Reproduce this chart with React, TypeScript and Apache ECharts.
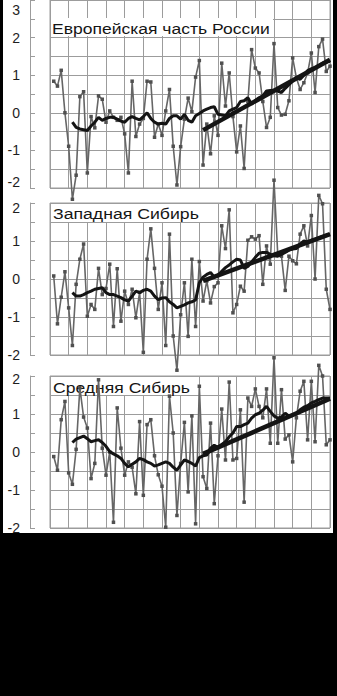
import React, { useEffect, useRef } from "react";
import * as echarts from "echarts";

const FIRST_YEAR = 1936;
const SMOOTH_FIRST_YEAR = 1941;
const TREND_START = 1976;
const TREND_END = 2010;
const AXIS_MIN_YEAR = 1935;
const AXIS_MAX_YEAR = 2010;

const europeTitle = "Европейская часть России";
const europeValues = [
  0.84, 0.71, 1.13, 0.0, -0.89, -2.3, -1.66, 0.43, 0.56, -1.6,
  -0.1, -0.4, 0.45, 0.36, -0.25, 0.05, -0.12, -0.2, -0.12, -0.56,
  -1.6, 0.84, -0.63, -0.3, -0.15, 0.84, 0.82, -0.65, -0.3, -0.6,
  0.05, 0.62, -0.89, -1.92, -0.9, -0.17, 0.39, 0.03, 0.95, 1.39,
  -1.39, -0.3, -1.09, -0.08, -0.6, 1.32, 0.18, 1.06, -0.1, -1.04,
  -0.35, -1.48, 0.3, 1.68, 1.19, 1.06, 0.3, -0.39, -0.12, 1.84,
  0.14, -0.06, -0.04, 0.32, 1.46, 0.93, 0.62, 0.8, 1.06, 1.59,
  0.54, 1.76, 1.96, 1.1, 1.24,
];
const europeSmooth = [
  -0.25, -0.39, -0.43, -0.45, -0.47, -0.35, -0.25, -0.12, -0.2, -0.15,
  -0.12, -0.12, -0.17, -0.22, -0.25, -0.15, -0.1, -0.15, -0.19, -0.1,
  0.0, -0.15, -0.25, -0.3, -0.28, -0.3, -0.15, -0.08, -0.08, -0.17,
  -0.04, -0.2, -0.25, -0.08, -0.02, 0.05, 0.1, 0.14, 0.16, -0.04,
  -0.06, -0.08, 0.05, 0.1, 0.14, 0.3, 0.32, 0.4, 0.23, 0.32,
  0.4, 0.45, 0.58, 0.59, 0.6, 0.58, 0.54, 0.65, 0.75, 0.85,
  0.93, 0.89, 1.0, 1.12, 1.17, 1.19, 1.25, 1.32, 1.35, 1.37,
];
const europeTrend = [-0.46, 1.41];

const westTitle = "Западная Сибирь";
const westValues = [
  0.08, -1.18, -0.48, 0.19, -0.76, -1.75, -0.14, 0.52, 0.92, -0.98,
  -0.67, -0.8, 0.28, -0.41, -0.25, 0.39, -1.25, 0.27, -1.11, -0.32,
  -0.67, -0.27, -1.02, -0.35, -1.93, 0.52, 1.32, 0.28, -0.8, -0.1,
  -1.75, 1.18, -1.5, -2.4, -0.94, -0.1, -1.51, 0.52, -1.25, 0.46,
  -0.58, -0.05, -0.63, -0.2, -0.1, 1.4, 0.8, 1.82, -0.89, -0.67,
  -0.19, -0.32, 1.02, 1.11, 1.05, 1.14, -0.14, 0.87, 0.39, 2.6,
  0.65, 0.6, -0.3, 0.6, 0.48, 0.4, 1.18, 1.4, 0.87, 1.67,
  0.0, 2.2, 1.98, -0.27, -0.8,
];
const westSmooth = [
  -0.36, -0.45, -0.45, -0.41, -0.36, -0.32, -0.27, -0.25, -0.23, -0.36,
  -0.41, -0.41, -0.45, -0.49, -0.55, -0.58, -0.45, -0.32, -0.36, -0.3,
  -0.27, -0.32, -0.45, -0.54, -0.5, -0.49, -0.6, -0.67, -0.76, -0.72,
  -0.68, -0.63, -0.6, -0.55, -0.1, 0.05, 0.12, 0.17, 0.05, 0.1,
  0.2, 0.3, 0.37, 0.45, 0.52, 0.5, 0.28, 0.33, 0.45, 0.57,
  0.68, 0.7, 0.7, 0.65, 0.61, 0.6, 0.65, 0.7, 0.76, 0.79,
  0.8, 0.92, 1.0, 0.97, 1.02, 1.05, 1.08, 1.12, 1.15, 1.18,
];
const westTrend = [-0.05, 1.18];

const centralTitle = "Средняя Сибирь";
const centralValues = [
  -0.12, -0.48, 0.85, 1.33, -0.55, -0.85, 0.07, 1.69, 0.92, 0.63,
  -0.7, -0.3, 1.9, 0.1, -0.61, 0.0, -1.85, 1.16, 0.1, -0.61,
  -0.26, -0.4, -1.1, 0.8, -1.14, 0.72, 0.85, -0.1, -0.6, -0.9,
  -1.98, 1.47, 0.5, -1.67, -0.3, 0.78, -1.05, 0.95, -1.89, 1.73,
  -0.65, -0.96, 0.76, -1.36, -0.1, 1.13, -0.21, 1.84, -0.21, -0.17,
  1.11, -1.32, 1.42, 1.2, 1.66, 1.2, 0.9, 1.66, 0.23, 2.48,
  0.23, 1.64, 0.34, 0.45, -0.26, 0.9, 1.6, 1.86, 0.32, 1.86,
  0.27, 2.28, 2.0, 0.19, 0.32,
];
const centralSmooth = [
  0.25, 0.34, 0.38, 0.42, 0.35, 0.27, 0.3, 0.32, 0.25, 0.15,
  0.01, -0.05, -0.1, -0.17, -0.3, -0.39, -0.32, -0.26, -0.17, -0.2,
  -0.26, -0.3, -0.37, -0.34, -0.3, -0.26, -0.3, -0.4, -0.48, -0.34,
  -0.21, -0.25, -0.3, -0.37, -0.15, -0.1, -0.08, 0.1, 0.18, 0.12,
  0.2, 0.27, 0.4, 0.5, 0.67, 0.67, 0.72, 0.76, 0.89, 0.98,
  1.02, 1.1, 1.2, 1.07, 0.95, 0.89, 0.92, 1.02, 0.94, 0.97,
  1.02, 1.11, 1.18, 1.22, 1.29, 1.33, 1.38, 1.42, 1.42, 1.42,
];
const centralTrend = [-0.05, 1.4];

const panelYMin = [-2, -2, -2];
const panelYMax = [3, 2, 2];

const GRID_COLOR = "#9c9c9c";
const RAW_COLOR = "#666666";
const BLACK = "#141414";
const FONT = '"Liberation Sans", Arial, sans-serif';

export default function App() {
  const ref = useRef<HTMLDivElement | null>(null);

  useEffect(() => {
    if (!ref.current) return;
    const chart = echarts.init(ref.current, undefined, { renderer: "svg" });

    const layouts = [
      { top: -2, height: 190, shiftMax: 10, shiftMin: 6 },
      { top: 203, height: 152, shiftMax: 5, shiftMin: 0 },
      { top: 376, height: 152, shiftMax: 3, shiftMin: 0 },
    ];
    const panels = [
      { title: europeTitle, values: europeValues, smooth: europeSmooth, trend: europeTrend },
      { title: westTitle, values: westValues, smooth: westSmooth, trend: westTrend },
      { title: centralTitle, values: centralValues, smooth: centralSmooth, trend: centralTrend },
    ];

    const measure = (text: string, size: number) => {
      const c = document.createElement("canvas").getContext("2d");
      if (!c) return text.length * size * 0.55;
      c.font = `${size}px "Liberation Sans"`;
      return c.measureText(text).width;
    };

    const titleLayout = [
      { x: 52, yTop: 18, h: 18, width: 218 },
      { x: 53, yTop: 204, h: 18, width: 146 },
      { x: 53, yTop: 377, h: 18, width: 137 },
    ];
    const TITLE_SIZE = 15;

    const grid = layouts.map((l) => ({
      left: 50,
      width: 280,
      top: l.top,
      height: l.height,
      show: true,
      borderColor: GRID_COLOR,
      borderWidth: 1,
      backgroundColor: "transparent",
    }));

    const xAxis = layouts.map((_, i) => ({
      type: "value",
      gridIndex: i,
      min: AXIS_MIN_YEAR,
      max: AXIS_MAX_YEAR,
      interval: 5,
      axisLabel: { show: false },
      axisTick: { show: false },
      axisLine: { show: false },
      splitLine: { show: true, lineStyle: { color: GRID_COLOR, width: 1 } },
    }));

    const yAxis = layouts.map((l, i) => {
      const min = panelYMin[i];
      const max = panelYMax[i];
      const base = { fontSize: 14, color: "#1e1e1e", fontFamily: FONT };
      return {
        type: "value",
        gridIndex: i,
        min,
        max,
        interval: 0.5,
        offset: 20,
        axisLine: { show: true, lineStyle: { color: GRID_COLOR, width: 1 } },
        axisTick: { show: true, inside: true, length: 5, lineStyle: { color: GRID_COLOR } },
        splitLine: { show: true, lineStyle: { color: GRID_COLOR, width: 1 } },
        axisLabel: {
          show: true,
          margin: 10,
          ...base,
          formatter: (v: number) => {
            if (!Number.isInteger(v)) return "";
            if (v === max && l.shiftMax) return `{hi|${v}}`;
            if (v === min && l.shiftMin) return `{lo|${v}}`;
            return String(v);
          },
          rich: {
            hi: { ...base, padding: [l.shiftMax * 2, 0, 0, 0] },
            lo: { ...base, padding: [0, 0, l.shiftMin * 2, 0] },
          },
        },
      };
    });

    const series: any[] = [];
    panels.forEach((p, i) => {
      series.push({
        type: "line",
        xAxisIndex: i,
        yAxisIndex: i,
        data: p.values.map((v, k) => [FIRST_YEAR + k, v]),
        symbol: "rect",
        symbolSize: 3.5,
        showSymbol: true,
        clip: false,
        lineStyle: { color: RAW_COLOR, width: 1.6 },
        itemStyle: { color: "#505050" },
        z: 3,
      });
      series.push({
        type: "line",
        xAxisIndex: i,
        yAxisIndex: i,
        data: p.smooth.map((v, k) => [SMOOTH_FIRST_YEAR + k, v]),
        symbol: "none",
        clip: false,
        lineStyle: { color: BLACK, width: 3 },
        z: 4,
      });
      series.push({
        type: "line",
        xAxisIndex: i,
        yAxisIndex: i,
        data: [
          [TREND_START, p.trend[0]],
          [TREND_END, p.trend[1]],
        ],
        symbol: "none",
        clip: false,
        lineStyle: { color: BLACK, width: 4.5 },
        z: 5,
      });
    });

    const graphic: any[] = [];
    panels.forEach((p, i) => {
      const t = titleLayout[i];
      const w = measure(p.title, TITLE_SIZE);
      graphic.push({
        type: "rect",
        z: 1,
        shape: { x: 51, y: t.yTop, width: t.width + 4, height: t.h },
        style: { fill: "#ffffff" },
      });
      graphic.push({
        type: "text",
        z: 2,
        x: t.x,
        y: t.yTop + t.h / 2 + 1,
        scaleX: t.width / w,
        style: {
          text: p.title,
          fontSize: TITLE_SIZE,
          fontFamily: FONT,
          fill: "#151515",
          align: "left",
          verticalAlign: "middle",
        },
      });
    });

    chart.setOption({
      animation: false,
      grid,
      xAxis,
      yAxis,
      series,
      graphic,
    });

    return () => chart.dispose();
  }, []);

  return (
    <div style={{ position: "fixed", left: 0, top: 0, width: 337, height: 696, background: "#000" }}>
      <div style={{ position: "absolute", left: 3, top: 0, width: 330, height: 533, background: "#fff" }} />
      <div ref={ref} style={{ position: "absolute", left: 0, top: 0, width: 337, height: 696 }} />
    </div>
  );
}
